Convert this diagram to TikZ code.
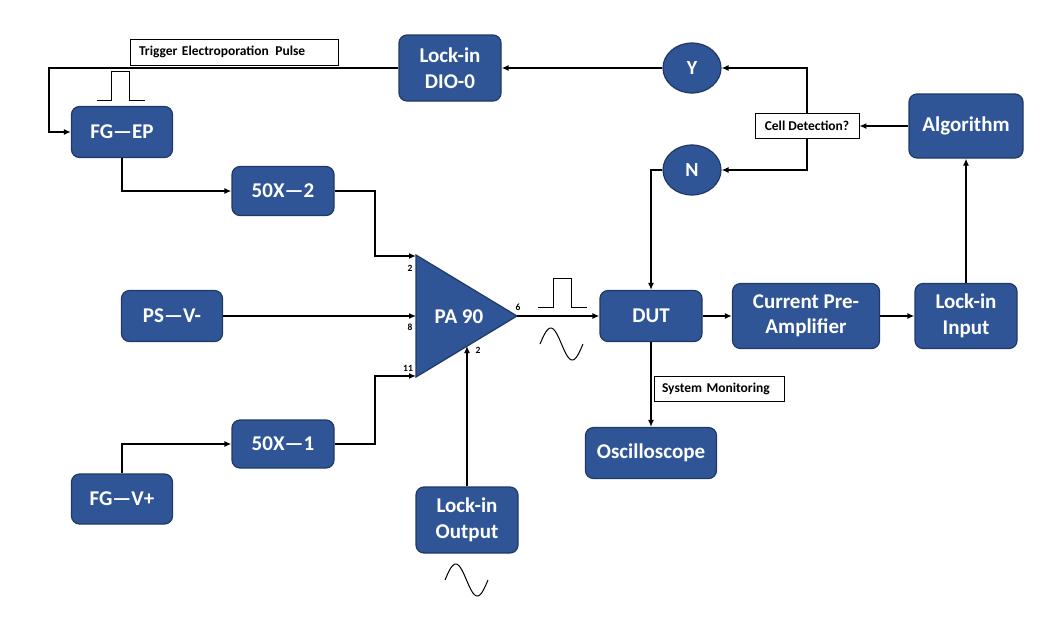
\documentclass[tikz,border=0pt]{standalone}
\usepackage{fontspec}
\setmainfont{Carlito}
\usetikzlibrary{arrows.meta,shapes.geometric}
\definecolor{boxblue}{RGB}{47,85,151}
\definecolor{boxedge}{RGB}{32,56,100}
\begin{document}
\begin{tikzpicture}[x=1pt,y=-1pt,
 blk/.style={draw=boxedge,fill=boxblue,line width=1.2pt,rounded corners=8pt,text=white,font=\fontsize{21}{25.5}\selectfont\bfseries,align=center,inner sep=0pt},
 circ/.style={ellipse,draw=boxedge,fill=boxblue,line width=1.2pt,text=white,font=\fontsize{20}{24}\selectfont\bfseries,inner sep=0pt,minimum width=58pt,minimum height=50pt},
 lbl/.style={draw=black,fill=white,line width=0.8pt,font=\fontsize{13.5}{15}\selectfont\bfseries,inner ysep=0pt,minimum height=25pt},
 arr/.style={line width=1.9pt,-{Latex[length=7pt,width=6pt]}},
 wave/.style={line width=1pt},
 pin/.style={font=\fontsize{9.5}{11}\selectfont\bfseries,inner sep=0pt}]
\useasboundingbox (0,0) rectangle (1050,625);
\fill[white] (0,0) rectangle (1050,625);

% blocks
\node[blk,minimum width=102pt,minimum height=66pt] (dio) at (450,68) {Lock-in\\DIO-0};
\node[circ] (Y) at (692,68) {Y};
\node[circ] (N) at (692,170) {N};
\node[blk,minimum width=101pt,minimum height=51pt] (fgep) at (122,132) {FG—EP};
\node[blk,minimum width=102pt,minimum height=49pt] (x2) at (283,191) {50X—2};
\node[blk,minimum width=101pt,minimum height=51pt] (ps) at (172,316) {PS—V-};
\node[blk,minimum width=102pt,minimum height=48pt] (x1) at (283,444) {50X—1};
\node[blk,minimum width=101pt,minimum height=50pt] (fgv) at (122,499) {FG—V+};
\node[blk,minimum width=102pt,minimum height=66pt] (lout) at (467,520) {Lock-in\\Output};
\node[blk,minimum width=102pt,minimum height=51pt] (dut) at (651,316) {DUT};
\node[blk,minimum width=147pt,minimum height=65pt] (cpa) at (806,316) {Current Pre-\\Amplifier};
\node[blk,minimum width=102pt,minimum height=65pt] (lin) at (966,316) {Lock-in\\Input};
\node[blk,minimum width=114pt,minimum height=64pt] (alg) at (966,126) {Algorithm};
\node[blk,minimum width=131pt,minimum height=51pt] (osc) at (651,453) {Oscilloscope};

% labels
\node[lbl,minimum width=104pt,inner xsep=2pt] (cell) at (807,126) {Cell Detection?};
\node[lbl,text width=190pt,inner xsep=9pt,align=left,minimum height=26pt] (trig) at (234,52) {Trigger Electroporation\hspace{2pt} Pulse};
\node[lbl,text width=114pt,inner xsep=8pt,align=left] (sysmon) at (719,388.5) {System Monitoring};

% amplifier
\coordinate (tA) at (416,255);
\coordinate (tB) at (416,377);
\coordinate (tC) at (517,316);
\filldraw[draw=boxedge,fill=boxblue,line width=1.2pt,line join=miter] (tA) -- (tC) -- (tB) -- cycle;
\node[text=white,font=\fontsize{21}{24}\selectfont\bfseries,inner sep=0pt] (pa) at (459,317) {PA 90};
\coordinate (p2) at (416,256);
\coordinate (p8) at (416,316);
\coordinate (p11) at (416,376);
\coordinate (p6) at (517,316);
\coordinate (pb) at (467,346);
\node[pin] (l2) at (410,268) {2};
\node[pin] (l8) at (410,327) {8};
\node[pin] (l11) at (408,368) {11};
\node[pin] (l6) at (518,307) {6};
\node[pin] (lb) at (478,350) {2};

% bend points
\coordinate (c1) at (49,68);
\coordinate (k2) at (375,191);
\coordinate (k1) at (375,444);

% connectors
\draw[arr] (dio.west) -- (c1) |- (fgep.west);
\draw[arr] (Y.west) -- (dio.east);
\draw[arr] (cell.north) |- (Y.east);
\draw[arr] (cell.south) |- (N.east);
\draw[arr] (alg.west) -- (cell.east);
\draw[arr] (lin.north) -- (alg.south);
\draw[arr] (N.west) -| (dut.north);
\draw[arr] (dut.south) -- (osc.north);
\draw[arr] (dut.east) -- (cpa.west);
\draw[arr] (cpa.east) -- (lin.west);
\draw[arr] (p6) -- (dut.west);
\draw[arr] (fgep.south) |- (x2.west);
\draw[arr] (x2.east) -- (k2) |- (p2);
\draw[arr] (ps.east) -- (p8);
\draw[arr] (x1.east) -- (k1) |- (p11);
\draw[arr] (fgv.north) |- (x1.west);
\draw[arr] (lout.north) -- (pb);

% pulses and waves
\draw[wave] (97,100) -- (111,100) -- (111,71) -- (129,71) -- (129,100) -- (145,100);
\draw[wave] (538,307) -- (553,307) -- (553,278) -- (571,278) -- (571,307) -- (587,307);
\draw[wave,smooth,domain=0:360,samples=60] plot ({540+43*\x/360},{344-16*sin(\x)});
\draw[wave,smooth,domain=0:360,samples=60] plot ({445+43*\x/360},{580-16*sin(\x)});
\end{tikzpicture}
\end{document}
